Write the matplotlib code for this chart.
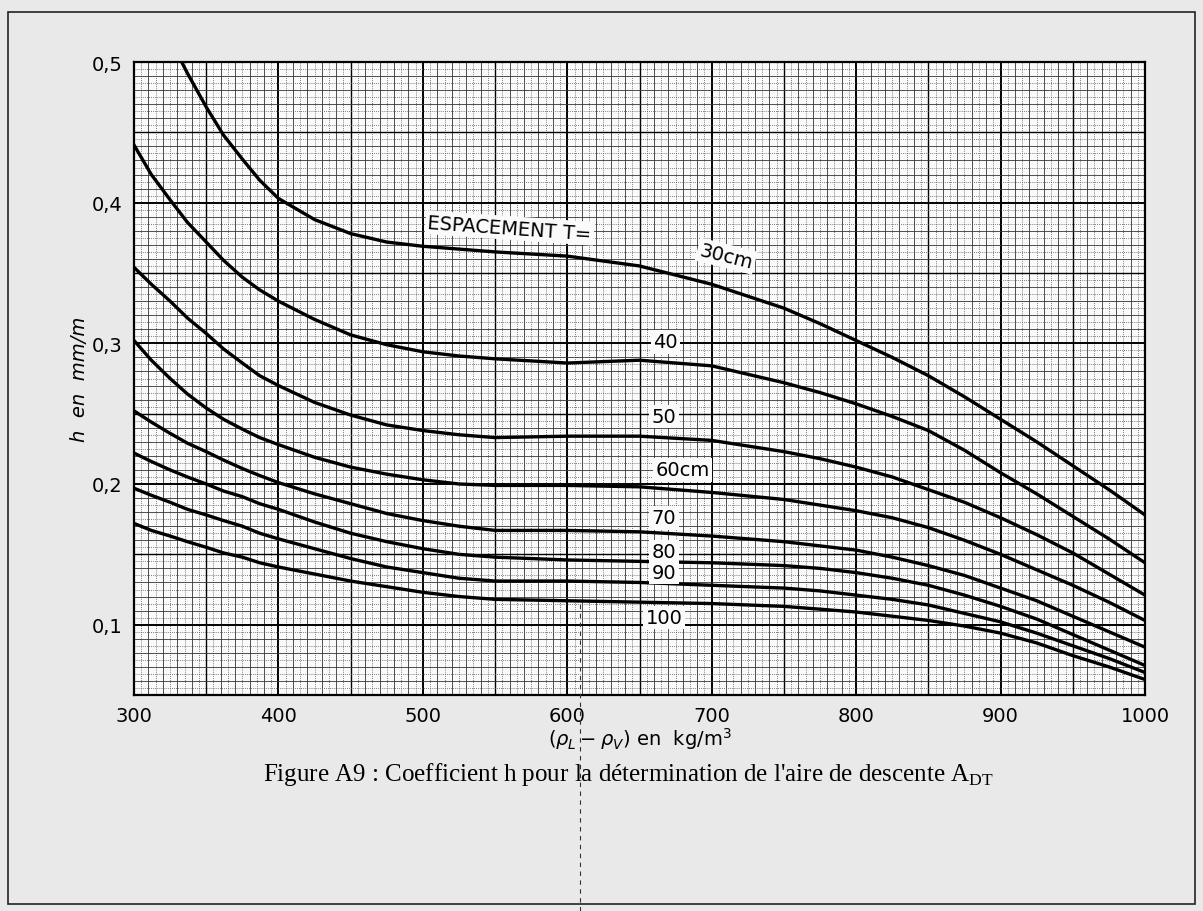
import numpy as np
import matplotlib
matplotlib.use("Agg")
import matplotlib.pyplot as plt
from matplotlib.patches import Rectangle
from matplotlib.lines import Line2D

# Data: h (m/m) vs (rho_L - rho_V) in kg/m3, one curve per tray spacing
x_common = [300, 312, 325, 337, 350, 362, 375, 387, 400, 425, 450, 475, 500, 525, 550,
            600, 650, 700, 750, 775, 800, 825, 850, 875, 900, 925, 950, 975, 1000]
x_30 = [333, 337, 350, 362, 375, 387, 400, 425, 450, 475, 500, 525, 550,
        600, 650, 700, 750, 775, 800, 825, 850, 875, 900, 925, 950, 975, 1000]
h_30 = [0.500, 0.492, 0.468, 0.448, 0.431, 0.416, 0.403, 0.388, 0.378, 0.372, 0.369, 0.367, 0.365,
        0.362, 0.355, 0.342, 0.325, 0.314, 0.302, 0.290, 0.277, 0.262, 0.246, 0.230, 0.213, 0.196, 0.178]
h_40 = [0.441, 0.420, 0.402, 0.386, 0.372, 0.359, 0.347, 0.338, 0.330, 0.317, 0.306, 0.299, 0.294, 0.291, 0.289,
        0.286, 0.288, 0.284, 0.272, 0.265, 0.257, 0.248, 0.238, 0.224, 0.208, 0.193, 0.177, 0.161, 0.144]
h_50 = [0.354, 0.342, 0.330, 0.318, 0.307, 0.296, 0.286, 0.277, 0.270, 0.258, 0.249, 0.242, 0.238, 0.235, 0.233,
        0.234, 0.234, 0.231, 0.223, 0.218, 0.212, 0.205, 0.196, 0.187, 0.176, 0.164, 0.151, 0.136, 0.121]
h_60 = [0.302, 0.288, 0.275, 0.264, 0.254, 0.246, 0.239, 0.233, 0.228, 0.219, 0.212, 0.207, 0.203, 0.200, 0.199,
        0.199, 0.198, 0.194, 0.189, 0.185, 0.181, 0.176, 0.169, 0.160, 0.150, 0.139, 0.128, 0.116, 0.103]
h_70 = [0.252, 0.244, 0.236, 0.229, 0.223, 0.217, 0.211, 0.206, 0.201, 0.193, 0.186, 0.179, 0.174, 0.170, 0.167,
        0.167, 0.166, 0.163, 0.159, 0.156, 0.153, 0.148, 0.142, 0.135, 0.126, 0.117, 0.106, 0.095, 0.084]
h_80 = [0.222, 0.216, 0.210, 0.205, 0.200, 0.195, 0.191, 0.186, 0.182, 0.173, 0.165, 0.159, 0.154, 0.150, 0.148,
        0.146, 0.145, 0.144, 0.142, 0.140, 0.137, 0.133, 0.128, 0.121, 0.113, 0.104, 0.093, 0.082, 0.071]
h_90 = [0.197, 0.192, 0.187, 0.182, 0.178, 0.174, 0.170, 0.165, 0.161, 0.154, 0.147, 0.141, 0.137, 0.133, 0.131,
        0.131, 0.130, 0.128, 0.126, 0.124, 0.121, 0.118, 0.114, 0.108, 0.102, 0.094, 0.085, 0.076, 0.066]
h_100 = [0.172, 0.167, 0.163, 0.159, 0.155, 0.151, 0.148, 0.144, 0.141, 0.136, 0.131, 0.127, 0.123, 0.120, 0.118,
         0.117, 0.116, 0.115, 0.113, 0.111, 0.109, 0.106, 0.103, 0.099, 0.094, 0.087, 0.078, 0.070, 0.061]

curve_labels = ["40", "50", "60cm", "70", "80", "90", "100"]
label_x = [668, 667, 680, 667, 667, 667, 667]
label_y = [0.301, 0.248, 0.210, 0.176, 0.152, 0.137, 0.105]

x_ticks = [300, 400, 500, 600, 700, 800, 900, 1000]
y_ticks = [0.1, 0.2, 0.3, 0.4, 0.5]
y_ticklabels = ["0,1", "0,2", "0,3", "0,4", "0,5"]

fig = plt.figure(figsize=(12.03, 9.12), dpi=100, facecolor="#e9e9e9")
ax = fig.add_axes([134 / 1203, 1 - 696 / 912, 1011 / 1203, 633 / 912])
ax.set_facecolor("#fafafa")
ax.set_xlim(300, 1000)
ax.set_ylim(0.05, 0.5)

# millimetre paper
for xv in np.arange(300, 1001, 5):
    if xv % 100 == 0:
        lw, c, ls = 1.4, "black", "-"
    elif xv % 50 == 0:
        lw, c, ls = 1.0, "black", "-"
    elif xv % 10 == 0:
        lw, c, ls = 0.6, "#333333", "-"
    else:
        lw, c, ls = 0.6, "#555555", (0, (1, 1.5))
    ax.axvline(xv, color=c, lw=lw, ls=ls, zorder=1)
for k in range(0, 91):
    yv = 0.05 + k * 0.005
    if k % 20 == 10:
        lw, c, ls = 1.4, "black", "-"
    elif k % 10 == 0:
        lw, c, ls = 1.0, "black", "-"
    elif k % 2 == 0:
        lw, c, ls = 0.6, "#333333", "-"
    else:
        lw, c, ls = 0.6, "#555555", (0, (1, 1.5))
    ax.axhline(yv, color=c, lw=lw, ls=ls, zorder=1)

# curves
ax.plot(x_30, h_30, color="black", lw=2.4, zorder=3, solid_joinstyle="round")
for h in [h_40, h_50, h_60, h_70, h_80, h_90, h_100]:
    ax.plot(x_common, h, color="black", lw=2.4, zorder=3, solid_joinstyle="round")

box = dict(boxstyle="square,pad=0.12", fc="#fafafa", ec="none")
for lab, lx, ly in zip(curve_labels, label_x, label_y):
    ax.text(lx, ly, lab, fontsize=14, ha="center", va="center", zorder=4, bbox=box)
ax.text(503, 0.382, "ESPACEMENT T=", fontsize=14, ha="left", va="center",
        rotation=-4, zorder=4, bbox=box)
ax.text(710, 0.362, "30cm", fontsize=14, ha="center", va="center",
        rotation=-14, zorder=4, bbox=box)

ax.set_xticks(x_ticks)
ax.set_xticklabels([str(v) for v in x_ticks], fontsize=14)
ax.set_yticks(y_ticks)
ax.set_yticklabels(y_ticklabels, fontsize=14)
ax.tick_params(length=0, pad=8)
for s in ax.spines.values():
    s.set_linewidth(1.6)

ax.set_xlabel(r"$(\rho_L - \rho_V)$ en  kg/m$^3$", fontsize=14, labelpad=0)
ax.set_ylabel("h  en  mm/m", fontsize=14, style="italic", labelpad=2)

fig.text(628 / 1203, 1 - 775 / 912,
         "Figure A9 : Coefficient h pour la détermination de l'aire de descente A$_{\\mathregular{DT}}$",
         fontsize=18, family="Liberation Serif", ha="center", va="center")

# scanned page frame and fold mark
fig.patches.append(Rectangle((8 / 1203, 1 - 905 / 912), 1187 / 1203, 892 / 912,
                             transform=fig.transFigure, fill=False, ec="#222222", lw=1.2))
fig.lines.append(Line2D([580 / 1203, 580 / 1203], [0, 1 - 600 / 912], transform=fig.transFigure,
                        color="#333333", lw=0.8, ls=(0, (4, 4))))

fig.savefig("out.png", dpi=100, facecolor=fig.get_facecolor())
